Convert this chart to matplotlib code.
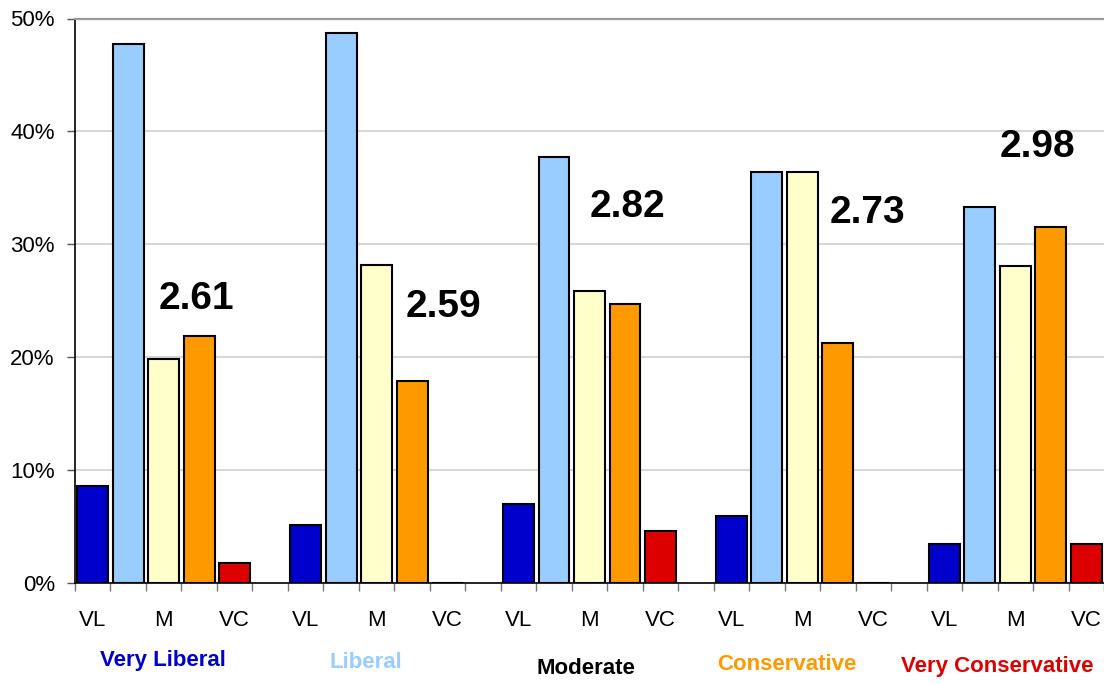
import numpy as np
import matplotlib.pyplot as plt

plt.rcParams['font.family'] = ['Liberation Sans', 'DejaVu Sans']

# ---- data ----
groups = ['Very Liberal', 'Liberal', 'Moderate', 'Conservative', 'Very Conservative']
answers = ['VL', 'L', 'M', 'C', 'VC']
tick_names = ['VL', '', 'M', '', 'VC']

# percent answering each category, one row per group
very_liberal = [8.6, 47.7, 19.9, 21.9, 1.8]
liberal = [5.2, 48.7, 28.2, 17.9, 0.0]
moderate = [7.0, 37.7, 25.9, 24.7, 4.6]
conservative = [6.0, 36.4, 36.4, 21.3, 0.0]
very_conservative = [3.5, 33.3, 28.1, 31.5, 3.5]

scores = ['2.61', '2.59', '2.82', '2.73', '2.98']

bar_colors = ['#0000CC', '#99CCFF', '#FFFFCC', '#FF9900', '#DD0000']
group_colors = ['#0000CC', '#99CCFF', '#000000', '#FF9900', '#DD0000']

all_rows = [very_liberal, liberal, moderate, conservative, very_conservative]

# where the score sits relative to each group (slot offset, height in %)
score_pos = [(2.93, 25.2), (3.87, 24.5), (3.08, 33.3), (3.84, 32.8), (2.63, 38.6)]
# group name placement under the axis (slot shift, height in %)
name_pos = [(-0.02, -6.8), (-0.3, -7.0), (-0.1, -7.5), (-0.44, -7.2), (-0.5, -7.35)]

fig = plt.figure(figsize=(11.04, 6.84), dpi=100)
ax = fig.add_axes([75 / 1104, 1 - 583.3 / 684, 1 - 75 / 1104, (583.3 - 18.5) / 684])

slot = 6  # five bars plus an empty gap
for g, row in enumerate(all_rows):
    xs = g * slot + np.arange(len(row))
    ax.bar(xs, row, width=0.87, color=bar_colors, edgecolor='black',
           linewidth=1.5, zorder=3)
    sx, sy = score_pos[g]
    ax.text(g * slot + sx, sy, scores[g], fontsize=28, fontweight='bold',
            ha='center', va='center', zorder=4)
    nx, ny = name_pos[g]
    ax.text(g * slot + 2 + nx, ny, groups[g], fontsize=16,
            fontweight='bold', color=group_colors[g], ha='center', va='center')

n_slots = slot * len(groups) - 1
ax.set_xlim(-0.5, n_slots - 0.5)
ax.set_ylim(0, 50)

# tick marks between bars, labels under the bars
ax.set_xticks(np.arange(n_slots + 1) - 0.5)
ax.set_xticklabels([])
centers = [g * slot + i for g in range(len(groups)) for i in range(len(answers))]
ax.set_xticks(centers, minor=True)
ax.set_xticklabels(tick_names * len(groups), minor=True)
ax.tick_params(axis='x', which='major', length=6, width=1, color='#777777', direction='out')
ax.tick_params(axis='x', which='minor', length=0, pad=19, labelsize=16)

ax.set_yticks(np.arange(0, 51, 10))
ax.set_yticklabels([f'{v}%' for v in range(0, 51, 10)])
ax.tick_params(axis='y', length=5.5, width=1, color='#555555', pad=9, labelsize=16)

ax.grid(axis='y', color='#D0D0D0', linewidth=1.2, zorder=0)
ax.spines['right'].set_visible(False)
ax.spines['top'].set_color('#999999')
ax.spines['top'].set_linewidth(1.6)
ax.spines['left'].set_color('black')
ax.spines['bottom'].set_color('black')
ax.spines['left'].set_linewidth(1.2)
ax.spines['bottom'].set_linewidth(1.2)

fig.savefig('out.png', dpi=100)
